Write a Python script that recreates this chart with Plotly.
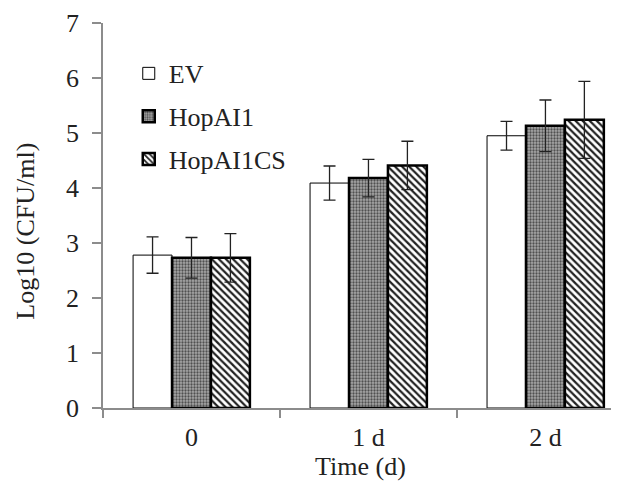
import plotly.graph_objects as go

categories = ["0", "1 d", "2 d"]
ev_vals = [2.78, 4.09, 4.95]
ev_err = [0.33, 0.31, 0.26]
hop_vals = [2.73, 4.18, 5.13]
hop_err = [0.37, 0.34, 0.47]
cs_vals = [2.73, 4.41, 5.24]
cs_err = [0.44, 0.44, 0.70]
y_ticks = [0, 1, 2, 3, 4, 5, 6, 7]

FONT = "Liberation Serif"
AX = "#8c8c8c"

fig = go.Figure()
fig.add_trace(go.Bar(
    name="EV", x=categories, y=ev_vals, legendgroup="a",
    marker=dict(color="white", line=dict(color="black", width=1)),
    error_y=dict(type="data", array=ev_err, color="#222", thickness=1.3, width=6),
))
fig.add_trace(go.Bar(
    name="HopAI1", x=categories, y=hop_vals, legendgroup="b",
    marker=dict(color="#8a8a8a", line=dict(color="black", width=2.5),
                pattern=dict(shape=".", bgcolor="#a8a8a8", fgcolor="#505050",
                             size=3, solidity=0.45, fillmode="replace")),
    error_y=dict(type="data", array=hop_err, color="#222", thickness=1.3, width=6),
))
fig.add_trace(go.Bar(
    name="HopAI1CS", x=categories, y=cs_vals, legendgroup="c",
    marker=dict(color="white", line=dict(color="black", width=2.5),
                pattern=dict(shape="\\", bgcolor="white", fgcolor="#222",
                             size=5, solidity=0.45, fillmode="replace")),
    error_y=dict(type="data", array=cs_err, color="#222", thickness=1.3, width=6),
))

fig.update_layout(
    width=611, height=482,
    margin=dict(l=95, r=1, t=13, b=82),
    paper_bgcolor="white", plot_bgcolor="white",
    barmode="group", bargap=0.34, bargroupgap=0,
    font=dict(family=FONT, size=26, color="#222"),
    legend=dict(x=0.05, y=0.93, xanchor="left", yanchor="top",
                bgcolor="rgba(0,0,0,0)", font=dict(size=26, family=FONT),
                traceorder="grouped", tracegroupgap=6,
                itemwidth=30),
    showlegend=True,
    xaxis=dict(
        type="category", range=[-0.5, 2.41],
        showline=True, linecolor=AX, linewidth=1.5,
        ticks="outside", tickson="boundaries", ticklen=8, tickcolor=AX, tickwidth=1.5,
        showgrid=False, zeroline=False, ticklabelstandoff=5,
        tickfont=dict(size=26, family=FONT),
        title=dict(text="Time (d)", font=dict(size=26, family=FONT), standoff=4),
    ),
    yaxis=dict(
        range=[0, 7], tickvals=y_ticks,
        showline=True, linecolor=AX, linewidth=1.5,
        ticks="outside", ticklen=9, tickcolor=AX, tickwidth=1.5,
        showgrid=False, zeroline=False, ticklabelstandoff=8,
        ticklabeloverflow="allow",
        tickfont=dict(size=26, family=FONT),
    ),
    annotations=[dict(
        text="Log10 (CFU/ml)", textangle=-90, showarrow=False,
        xref="paper", yref="paper", x=-0.15, y=0.46,
        xanchor="center", yanchor="middle",
        font=dict(size=26, family=FONT, color="#222"),
    )],
)

fig.write_html("out.html")
